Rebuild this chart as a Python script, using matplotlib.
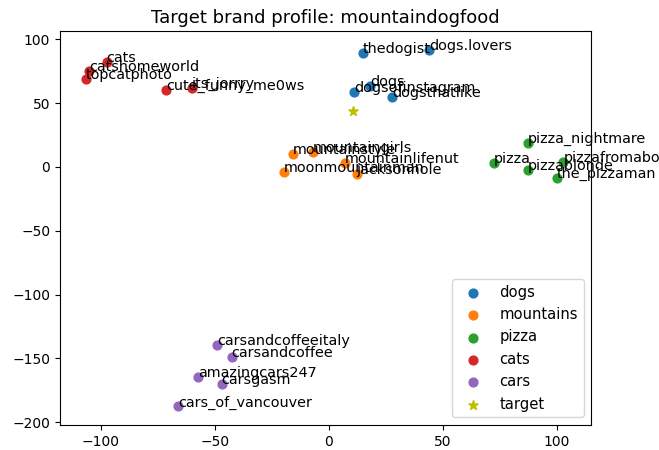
import matplotlib
matplotlib.use("Agg")
import matplotlib.pyplot as plt

title = "Target brand profile: mountaindogfood"

dogs_names = ["thedogist", "dogs.lovers", "dogsofinstagram", "dogs", "dogsthatlike"]
dogs_x = [14.8, 43.9, 11.0, 18.0, 27.6]
dogs_y = [89.0, 92.0, 59.0, 63.5, 55.0]

mountains_names = ["mountaingirls", "mountainstyle", "moonmountainman", "mountainlifenut", "jacksonhole"]
mountains_x = [-7.2, -15.9, -19.7, 7.0, 12.1]
mountains_y = [12.0, 10.0, -3.7, 3.0, -5.5]

pizza_names = ["pizza_nightmare", "pizza", "pizzablonde", "pizzafromabove", "the_pizzaman"]
pizza_x = [87.4, 72.4, 87.1, 102.8, 99.9]
pizza_y = [19.0, 2.9, -2.3, 4.2, -8.9]

cats_names = ["cats", "catshomeworld", "topcatphoto", "cute_funny_me0ws", "its_jorrry"]
cats_x = [-97.5, -105.1, -106.6, -71.5, -60.2]
cats_y = [82.4, 75.4, 68.6, 60.3, 61.6]

cars_names = ["carsandcoffeeitaly", "carsandcoffee", "amazingcars247", "carsgasm", "cars_of_vancouver"]
cars_x = [-49.0, -42.7, -57.3, -47.1, -66.1]
cars_y = [-139.3, -149.0, -164.6, -170.0, -187.6]

target_x = [10.5]
target_y = [44.0]

groups = [
    ("dogs", dogs_names, dogs_x, dogs_y, "#1f77b4"),
    ("mountains", mountains_names, mountains_x, mountains_y, "#ff7f0e"),
    ("pizza", pizza_names, pizza_x, pizza_y, "#2ca02c"),
    ("cats", cats_names, cats_x, cats_y, "#d62728"),
    ("cars", cars_names, cars_x, cars_y, "#9467bd"),
]

fig = plt.figure(figsize=(6.59, 4.5), dpi=100)
ax = fig.add_axes([0.091, 0.056, 0.806, 0.875])

for label, names, xs, ys, color in groups:
    ax.scatter(xs, ys, c=color, label=label, s=40)
    for n, x, y in zip(names, xs, ys):
        ax.annotate(n, (x, y), fontsize=10.4)

ax.scatter(target_x, target_y, c="y", marker="*", s=50, label="target")

ax.set_xlim(-118, 115)
ax.set_ylim(-202, 106.5)
ax.set_title(title, fontsize=13)
ax.legend(loc="lower right", scatterpoints=1, fontsize=10.6)

fig.savefig("out.png", dpi=100)
